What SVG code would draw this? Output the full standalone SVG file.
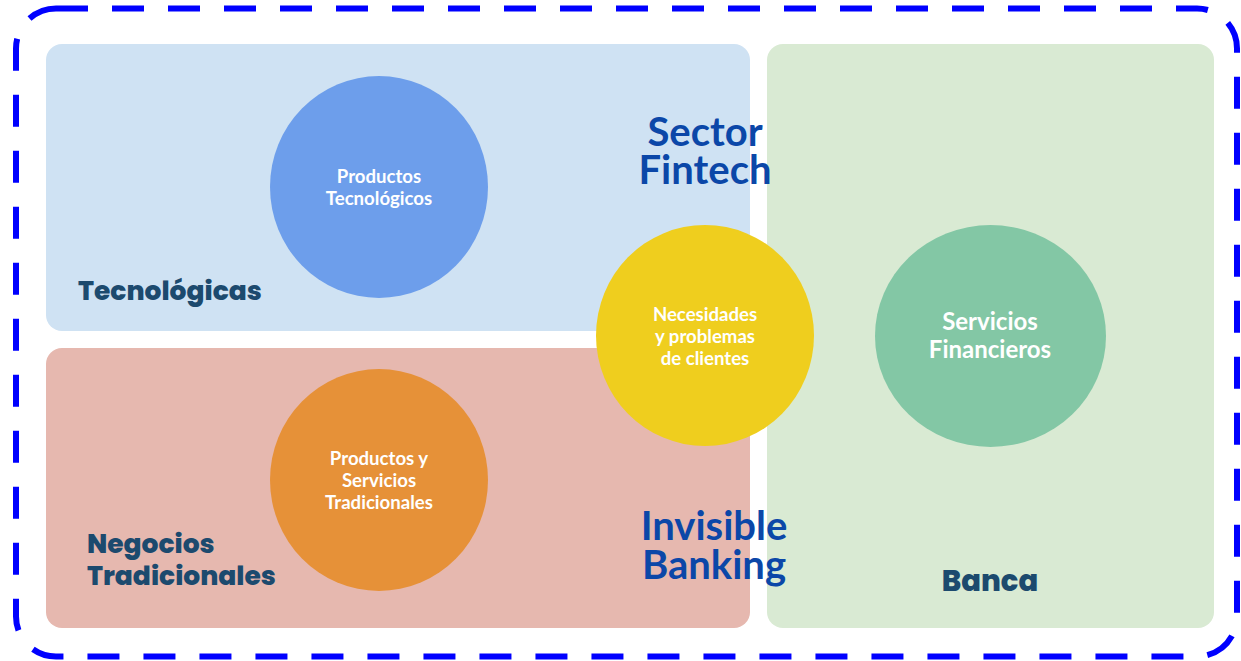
<svg xmlns="http://www.w3.org/2000/svg" width="1241" height="661" viewBox="0 0 1241 661">
<style>
.panel{stroke:none}
.ctext{font-family:Lato,"Liberation Sans",sans-serif;font-weight:bold;fill:#ffffff;text-anchor:middle}
.big{font-family:Lato,"Liberation Sans",sans-serif;font-weight:bold;fill:#0b47a8;text-anchor:middle;font-size:40px}
.lbl{font-family:Poppins,Inter,"Noto Sans",sans-serif;font-weight:800;fill:#1c4a6e;font-size:26.5px}
</style>
<rect width="1241" height="661" fill="#ffffff"/>
<rect x="16" y="8.5" width="1221" height="648" rx="40" ry="40" fill="none" stroke="#0000ff" stroke-width="6" stroke-dasharray="32 24"/>
<g id="tecnologicas">
<rect class="panel" x="46" y="44" width="704" height="287" rx="16" fill="#cfe2f3"/>
<text class="lbl" x="78" y="300">Tecnológicas</text>
</g>
<g id="negocios">
<rect class="panel" x="46" y="348" width="704" height="280" rx="16" fill="#e6b8af"/>
<text class="lbl" x="87" y="553">Negocios</text>
<text class="lbl" x="87" y="585">Tradicionales</text>
</g>
<g id="banca">
<rect class="panel" x="767" y="44" width="447" height="584" rx="16" fill="#d9ead3"/>
<text class="lbl" x="990" y="591" style="text-anchor:middle;font-size:29px">Banca</text>
</g>
<g id="productos-tecnologicos">
<ellipse cx="379" cy="187" rx="109" ry="111" fill="#6d9eeb"/>
<text class="ctext" font-size="18.6" x="379" y="183">Productos</text>
<text class="ctext" font-size="18.6" x="379" y="205">Tecnológicos</text>
</g>
<g id="productos-tradicionales">
<ellipse cx="379" cy="480" rx="109" ry="111" fill="#e69138"/>
<text class="ctext" font-size="18.6" x="379" y="465">Productos y</text>
<text class="ctext" font-size="18.6" x="379" y="487">Servicios</text>
<text class="ctext" font-size="18.6" x="379" y="509">Tradicionales</text>
</g>
<g id="servicios-financieros">
<ellipse cx="990.5" cy="336" rx="115.5" ry="111" fill="#83c7a5"/>
<text class="ctext" font-size="24" x="990" y="330">Servicios</text>
<text class="ctext" font-size="24" x="990" y="358">Financieros</text>
</g>
<g id="sector-fintech">
<text class="big" x="705" y="146">Sector</text>
<text class="big" x="705" y="184">Fintech</text>
</g>
<g id="necesidades">
<ellipse cx="705" cy="335.5" rx="109" ry="110.5" fill="#efce1e"/>
<text class="ctext" font-size="18.6" x="705" y="321">Necesidades</text>
<text class="ctext" font-size="18.6" x="705" y="343">y problemas</text>
<text class="ctext" font-size="18.6" x="705" y="365">de clientes</text>
</g>
<g id="invisible-banking">
<text class="big" x="714" y="540">Invisible</text>
<text class="big" x="714" y="579">Banking</text>
</g>
<g id="connectors"></g>
</svg>
